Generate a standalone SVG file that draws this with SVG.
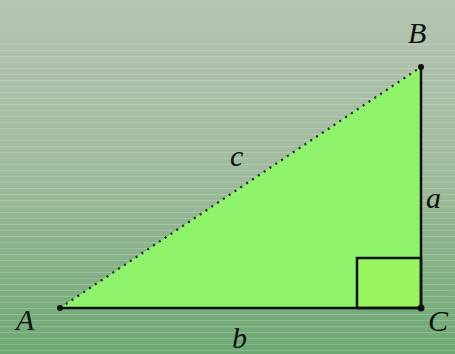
<svg xmlns="http://www.w3.org/2000/svg" width="455" height="354" viewBox="0 0 455 354">
<defs>
<linearGradient id="bg" x1="0" y1="0" x2="0" y2="1">
<stop offset="0" stop-color="#b5c4b3"/>
<stop offset="0.5" stop-color="#9fba9c"/>
<stop offset="1" stop-color="#6da872"/>
</linearGradient>
<pattern id="stripes" width="455" height="6" patternUnits="userSpaceOnUse">
<rect x="0" y="2" width="455" height="1" fill="#ffffff" fill-opacity="0.18"/>
</pattern>
</defs>
<style>
.lbl{font-family:"Liberation Serif",serif;font-style:italic;font-size:30px;fill:#111;}
.edge{stroke:#111;stroke-width:2.5;fill:none;}
</style>
<rect width="455" height="354" fill="url(#bg)"/>
<rect y="40" width="455" height="314" fill="url(#stripes)"/>
<g id="triangle">
<polygon points="60,308 421,67 421,308" fill="#8ef26a"/>
<rect x="357" y="258" width="64" height="50" fill="#98f55e" stroke="#111" stroke-width="2.5"/>
</g>
<g id="connectors">
<line class="edge" x1="421" y1="67" x2="421" y2="308"/>
<line class="edge" x1="60" y1="308" x2="421" y2="308"/>
<line x1="60" y1="308" x2="421" y2="67" stroke="#222" stroke-width="2.2" stroke-dasharray="2,5"/>
</g>
<g id="A"><circle cx="60" cy="308" r="3" fill="#111"/><text class="lbl" x="16" y="330">A</text></g>
<g id="B"><circle cx="421" cy="67" r="3" fill="#111"/><text class="lbl" x="408" y="43">B</text></g>
<g id="C"><circle cx="421" cy="308" r="3.5" fill="#111"/><text class="lbl" x="428" y="331">C</text></g>
<g id="la"><text class="lbl" x="426" y="208">a</text></g>
<g id="lb"><text class="lbl" x="232" y="348">b</text></g>
<g id="lc"><text class="lbl" x="230" y="166">c</text></g>
</svg>
